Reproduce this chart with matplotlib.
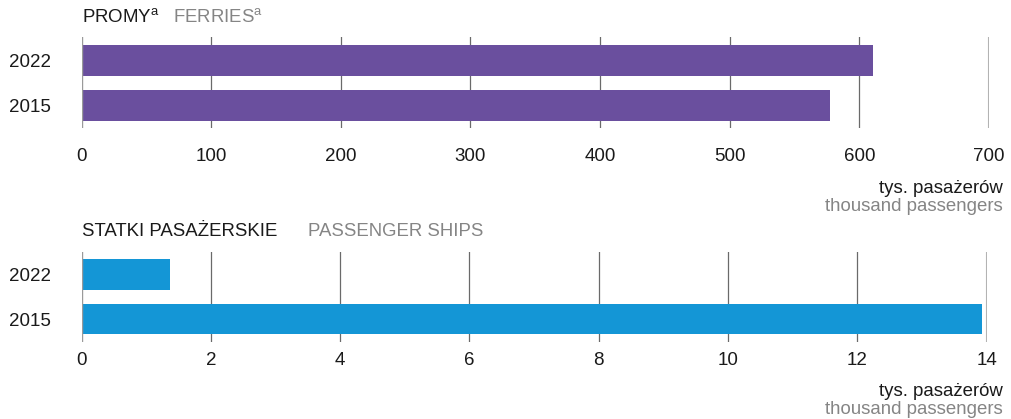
import matplotlib
matplotlib.use("Agg")
import matplotlib.pyplot as plt

plt.rcParams["font.family"] = ["Liberation Sans", "DejaVu Sans"]

YEARS = ["2022", "2015"]
FERRY_VALUES = [610.5, 577.5]      # thousand passengers
SHIP_VALUES = [1.37, 13.93]        # thousand passengers
FERRY_TICKS = [0, 100, 200, 300, 400, 500, 600, 700]
SHIP_TICKS = [0, 2, 4, 6, 8, 10, 12, 14]

PURPLE = "#6a4f9e"
BLUE = "#1496d6"
GREY_TXT = "#858585"
DARK_TXT = "#1a1a1a"
FS_TICK = 13.5
FS = 13.4
W, H = 1011, 419


def draw_panel(ax, values, ticks, color, xpad):
    y = range(len(values))
    ax.barh(y, values, height=0.69, color=color, zorder=2)
    ax.set_ylim(len(values) - 0.49, -0.52)
    ax.set_xlim(ticks[0], ticks[-1])
    ax.set_yticks(list(y))
    ax.set_yticklabels(YEARS, fontsize=FS_TICK, color=DARK_TXT)
    ax.set_xticks(ticks)
    ax.set_xticklabels([str(t) for t in ticks], fontsize=FS_TICK, color=DARK_TXT)
    ax.tick_params(axis="y", length=0, pad=22)
    ax.tick_params(axis="x", length=0, pad=xpad)
    for s in ax.spines.values():
        s.set_visible(False)
    for t in ticks[1:-1]:
        ax.axvline(t, color="#6a6a6a", lw=0.9, zorder=1)
    ax.axvline(ticks[0], color="#9a9a9a", lw=1.0, zorder=3)
    ax.axvline(ticks[-1], color="#b3b3b3", lw=1.5, zorder=1)


def px(x, y):
    return x / W, 1 - y / H


fig = plt.figure(figsize=(W / 100, H / 100), dpi=100)
ax1 = fig.add_axes([81.5 / W, 1 - 128.3 / H, 907.5 / W, 91.6 / H])
ax2 = fig.add_axes([81.5 / W, 1 - 341.7 / H, 905.1 / W, 90.0 / H])

draw_panel(ax1, FERRY_VALUES, FERRY_TICKS, PURPLE, 14)
draw_panel(ax2, SHIP_VALUES, SHIP_TICKS, BLUE, 7.5)

# panel titles
fig.text(*px(82, 18), "PROMY$^{\\mathregular{a}}$", fontsize=FS,
         color=DARK_TXT, va="center", ha="left")
fig.text(*px(173, 18), "FERRIES$^{\\mathregular{a}}$", fontsize=FS,
         color=GREY_TXT, va="center", ha="left")
fig.text(*px(82, 232), "STATKI PASAŻERSKIE", fontsize=FS,
         color=DARK_TXT, va="center", ha="left")
fig.text(*px(308, 232), "PASSENGER SHIPS", fontsize=FS,
         color=GREY_TXT, va="center", ha="left")

# unit labels
for y_pl, y_en in [(188, 206), (391, 409)]:
    fig.text(*px(1003, y_pl), "tys. pasażerów", fontsize=FS,
             color=DARK_TXT, va="center", ha="right")
    fig.text(*px(1003, y_en), "thousand passengers", fontsize=FS,
             color=GREY_TXT, va="center", ha="right")

fig.savefig("out.png", dpi=100)
